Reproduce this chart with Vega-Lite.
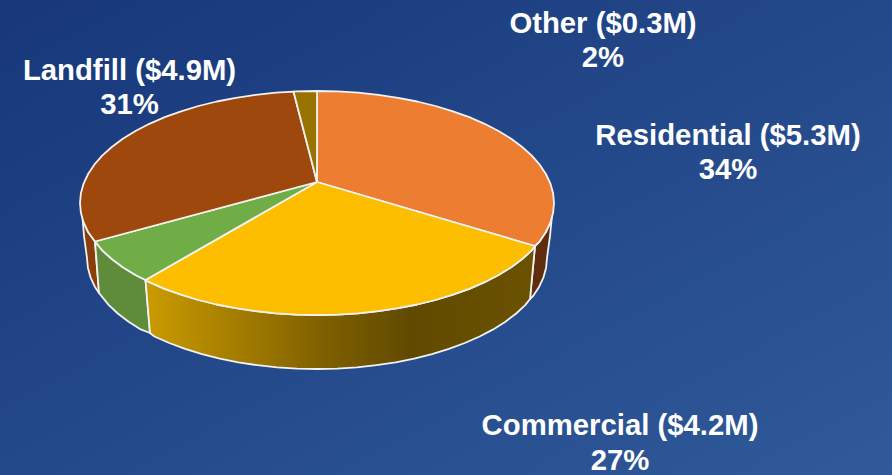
{"$schema":"https://vega.github.io/schema/vega-lite/v6.json","width":892,"height":475,"autosize":{"type":"none"},"padding":0,"config":{"view":{"stroke":null}},
"datasets":{
"backdrop":[{"x":0,"x2":892,"y":0,"y2":475}],
"labels":[{"text":"Other ($0.3M)","x":603,"y":24},{"text":"2%","x":603,"y":58},{"text":"Landfill ($4.9M)","x":129.5,"y":71},{"text":"31%","x":129.5,"y":105},{"text":"Residential ($5.3M)","x":728,"y":136},{"text":"34%","x":728,"y":170},{"text":"Commercial ($4.2M)","x":620,"y":426},{"text":"27%","x":620,"y":461}],
"outline":[
{"part":"sideLandfillLeft","i":0,"x":82.5,"y":218},{"part":"sideLandfillLeft","i":1,"x":83.6,"y":222.4},{"part":"sideLandfillLeft","i":2,"x":88.1,"y":232},{"part":"sideLandfillLeft","i":3,"x":95,"y":241.5},{"part":"sideLandfillLeft","i":4,"x":99,"y":293},{"part":"sideLandfillLeft","i":5,"x":94.8,"y":286.7},{"part":"sideLandfillLeft","i":6,"x":90.5,"y":277.3},{"part":"sideLandfillLeft","i":7,"x":87.9,"y":267.7},{"part":"sideLandfillLeft","i":8,"x":87,"y":258},{"part":"sideLandfillLeft","i":9,"x":84,"y":236},{"part":"sideLandfillLeft","i":10,"x":82.5,"y":218},
{"part":"sideLandfillRight","i":0,"x":552,"y":216},{"part":"sideLandfillRight","i":1,"x":550.4,"y":222.4},{"part":"sideLandfillRight","i":2,"x":545.9,"y":232},{"part":"sideLandfillRight","i":3,"x":539.7,"y":241.3},{"part":"sideLandfillRight","i":4,"x":535,"y":246},{"part":"sideLandfillRight","i":5,"x":530,"y":299},{"part":"sideLandfillRight","i":6,"x":533.1,"y":296},{"part":"sideLandfillRight","i":7,"x":539.2,"y":286.7},{"part":"sideLandfillRight","i":8,"x":543.5,"y":277.3},{"part":"sideLandfillRight","i":9,"x":546.1,"y":267.7},{"part":"sideLandfillRight","i":10,"x":547,"y":258},{"part":"sideLandfillRight","i":11,"x":550,"y":236},{"part":"sideLandfillRight","i":12,"x":552,"y":216},
{"part":"sideGreen","i":0,"x":95,"y":241.5},{"part":"sideGreen","i":1,"x":102.2,"y":250.3},{"part":"sideGreen","i":2,"x":111.8,"y":259},{"part":"sideGreen","i":3,"x":122.8,"y":267.2},{"part":"sideGreen","i":4,"x":135.5,"y":275},{"part":"sideGreen","i":5,"x":145.5,"y":280},{"part":"sideGreen","i":6,"x":150,"y":333},{"part":"sideGreen","i":7,"x":140.8,"y":329.4},{"part":"sideGreen","i":8,"x":128.6,"y":321.7},{"part":"sideGreen","i":9,"x":117.8,"y":313.5},{"part":"sideGreen","i":10,"x":108.6,"y":304.9},{"part":"sideGreen","i":11,"x":99,"y":293},{"part":"sideGreen","i":12,"x":95,"y":241.5},
{"part":"sideYellow","i":0,"x":535,"y":246},{"part":"sideYellow","i":1,"x":531.8,"y":250.3},{"part":"sideYellow","i":2,"x":522.2,"y":259},{"part":"sideYellow","i":3,"x":511.2,"y":267.2},{"part":"sideYellow","i":4,"x":498.5,"y":275},{"part":"sideYellow","i":5,"x":484.6,"y":282.2},{"part":"sideYellow","i":6,"x":469.3,"y":288.8},{"part":"sideYellow","i":7,"x":452.9,"y":294.7},{"part":"sideYellow","i":8,"x":435.5,"y":300},{"part":"sideYellow","i":9,"x":417.2,"y":304.5},{"part":"sideYellow","i":10,"x":398.1,"y":308.2},{"part":"sideYellow","i":11,"x":378.3,"y":311.2},{"part":"sideYellow","i":12,"x":358.1,"y":313.3},{"part":"sideYellow","i":13,"x":337.7,"y":314.6},{"part":"sideYellow","i":14,"x":317,"y":315},{"part":"sideYellow","i":15,"x":296.3,"y":314.6},{"part":"sideYellow","i":16,"x":275.9,"y":313.3},{"part":"sideYellow","i":17,"x":255.7,"y":311.2},{"part":"sideYellow","i":18,"x":235.9,"y":308.2},{"part":"sideYellow","i":19,"x":216.8,"y":304.5},{"part":"sideYellow","i":20,"x":198.5,"y":300},{"part":"sideYellow","i":21,"x":181.1,"y":294.7},{"part":"sideYellow","i":22,"x":164.7,"y":288.8},{"part":"sideYellow","i":23,"x":149.4,"y":282.2},{"part":"sideYellow","i":24,"x":145.5,"y":280},{"part":"sideYellow","i":25,"x":150,"y":333},{"part":"sideYellow","i":26,"x":154.4,"y":336.5},{"part":"sideYellow","i":27,"x":169.2,"y":343},{"part":"sideYellow","i":28,"x":185.1,"y":348.9},{"part":"sideYellow","i":29,"x":202,"y":354.1},{"part":"sideYellow","i":30,"x":219.8,"y":358.6},{"part":"sideYellow","i":31,"x":238.3,"y":362.3},{"part":"sideYellow","i":32,"x":257.5,"y":365.2},{"part":"sideYellow","i":33,"x":277.1,"y":367.3},{"part":"sideYellow","i":34,"x":296.9,"y":368.6},{"part":"sideYellow","i":35,"x":317,"y":369},{"part":"sideYellow","i":36,"x":337.1,"y":368.6},{"part":"sideYellow","i":37,"x":356.9,"y":367.3},{"part":"sideYellow","i":38,"x":376.5,"y":365.2},{"part":"sideYellow","i":39,"x":395.7,"y":362.3},{"part":"sideYellow","i":40,"x":414.2,"y":358.6},{"part":"sideYellow","i":41,"x":432,"y":354.1},{"part":"sideYellow","i":42,"x":448.9,"y":348.9},{"part":"sideYellow","i":43,"x":464.8,"y":343},{"part":"sideYellow","i":44,"x":479.6,"y":336.5},{"part":"sideYellow","i":45,"x":493.2,"y":329.4},{"part":"sideYellow","i":46,"x":505.4,"y":321.7},{"part":"sideYellow","i":47,"x":516.2,"y":313.5},{"part":"sideYellow","i":48,"x":525.4,"y":304.9},{"part":"sideYellow","i":49,"x":530,"y":299},{"part":"sideYellow","i":50,"x":535,"y":246},
{"part":"Residential","i":0,"x":317,"y":182},{"part":"Residential","i":1,"x":317,"y":91},{"part":"Residential","i":2,"x":337.7,"y":91.4},{"part":"Residential","i":3,"x":358.1,"y":92.7},{"part":"Residential","i":4,"x":378.3,"y":94.8},{"part":"Residential","i":5,"x":398.1,"y":97.8},{"part":"Residential","i":6,"x":417.2,"y":101.5},{"part":"Residential","i":7,"x":435.5,"y":106},{"part":"Residential","i":8,"x":452.9,"y":111.3},{"part":"Residential","i":9,"x":469.3,"y":117.2},{"part":"Residential","i":10,"x":484.6,"y":123.8},{"part":"Residential","i":11,"x":498.5,"y":131},{"part":"Residential","i":12,"x":511.2,"y":138.8},{"part":"Residential","i":13,"x":522.2,"y":147},{"part":"Residential","i":14,"x":531.8,"y":155.7},{"part":"Residential","i":15,"x":539.7,"y":164.7},{"part":"Residential","i":16,"x":545.9,"y":174},{"part":"Residential","i":17,"x":550.4,"y":183.6},{"part":"Residential","i":18,"x":553.1,"y":193.2},{"part":"Residential","i":19,"x":554,"y":203},{"part":"Residential","i":20,"x":553.1,"y":212.8},{"part":"Residential","i":21,"x":550.4,"y":222.4},{"part":"Residential","i":22,"x":545.9,"y":232},{"part":"Residential","i":23,"x":539.7,"y":241.3},{"part":"Residential","i":24,"x":535,"y":246},{"part":"Residential","i":25,"x":317,"y":182},
{"part":"Commercial","i":0,"x":317,"y":182},{"part":"Commercial","i":1,"x":535,"y":246},{"part":"Commercial","i":2,"x":531.8,"y":250.3},{"part":"Commercial","i":3,"x":522.2,"y":259},{"part":"Commercial","i":4,"x":511.2,"y":267.2},{"part":"Commercial","i":5,"x":498.5,"y":275},{"part":"Commercial","i":6,"x":484.6,"y":282.2},{"part":"Commercial","i":7,"x":469.3,"y":288.8},{"part":"Commercial","i":8,"x":452.9,"y":294.7},{"part":"Commercial","i":9,"x":435.5,"y":300},{"part":"Commercial","i":10,"x":417.2,"y":304.5},{"part":"Commercial","i":11,"x":398.1,"y":308.2},{"part":"Commercial","i":12,"x":378.3,"y":311.2},{"part":"Commercial","i":13,"x":358.1,"y":313.3},{"part":"Commercial","i":14,"x":337.7,"y":314.6},{"part":"Commercial","i":15,"x":317,"y":315},{"part":"Commercial","i":16,"x":296.3,"y":314.6},{"part":"Commercial","i":17,"x":275.9,"y":313.3},{"part":"Commercial","i":18,"x":255.7,"y":311.2},{"part":"Commercial","i":19,"x":235.9,"y":308.2},{"part":"Commercial","i":20,"x":216.8,"y":304.5},{"part":"Commercial","i":21,"x":198.5,"y":300},{"part":"Commercial","i":22,"x":181.1,"y":294.7},{"part":"Commercial","i":23,"x":164.7,"y":288.8},{"part":"Commercial","i":24,"x":149.4,"y":282.2},{"part":"Commercial","i":25,"x":145.5,"y":280},{"part":"Commercial","i":26,"x":317,"y":182},
{"part":"Green","i":0,"x":317,"y":182},{"part":"Green","i":1,"x":145.5,"y":280},{"part":"Green","i":2,"x":135.5,"y":275},{"part":"Green","i":3,"x":122.8,"y":267.2},{"part":"Green","i":4,"x":111.8,"y":259},{"part":"Green","i":5,"x":102.2,"y":250.3},{"part":"Green","i":6,"x":95,"y":241.5},{"part":"Green","i":7,"x":317,"y":182},
{"part":"Landfill","i":0,"x":317,"y":182},{"part":"Landfill","i":1,"x":95,"y":241.5},{"part":"Landfill","i":2,"x":88.1,"y":232},{"part":"Landfill","i":3,"x":83.6,"y":222.4},{"part":"Landfill","i":4,"x":80.9,"y":212.8},{"part":"Landfill","i":5,"x":80,"y":203},{"part":"Landfill","i":6,"x":80.9,"y":193.2},{"part":"Landfill","i":7,"x":83.6,"y":183.6},{"part":"Landfill","i":8,"x":88.1,"y":174},{"part":"Landfill","i":9,"x":94.3,"y":164.7},{"part":"Landfill","i":10,"x":102.2,"y":155.7},{"part":"Landfill","i":11,"x":111.8,"y":147},{"part":"Landfill","i":12,"x":122.8,"y":138.8},{"part":"Landfill","i":13,"x":135.5,"y":131},{"part":"Landfill","i":14,"x":149.4,"y":123.8},{"part":"Landfill","i":15,"x":164.7,"y":117.2},{"part":"Landfill","i":16,"x":181.1,"y":111.3},{"part":"Landfill","i":17,"x":198.5,"y":106},{"part":"Landfill","i":18,"x":216.8,"y":101.5},{"part":"Landfill","i":19,"x":235.9,"y":97.8},{"part":"Landfill","i":20,"x":255.7,"y":94.8},{"part":"Landfill","i":21,"x":275.9,"y":92.7},{"part":"Landfill","i":22,"x":293.5,"y":91.6},{"part":"Landfill","i":23,"x":317,"y":182},
{"part":"Other","i":0,"x":317,"y":182},{"part":"Other","i":1,"x":293.5,"y":91.6},{"part":"Other","i":2,"x":296.3,"y":91.4},{"part":"Other","i":3,"x":317,"y":91},{"part":"Other","i":4,"x":317,"y":182}
]},
"layer":[
{"data":{"name":"backdrop"},"mark":{"type":"rect","color":{"gradient":"linear","x1":0,"y1":0,"x2":1,"y2":1,"stops":[{"offset":0,"color":"#17377A"},{"offset":1,"color":"#305A9A"}]}},"encoding":{"x":{"field":"x","type":"quantitative","scale":{"domain":[0,892],"nice":false,"zero":false},"axis":null},"x2":{"field":"x2"},"y":{"field":"y","type":"quantitative","scale":{"domain":[475,0],"nice":false,"zero":false},"axis":null},"y2":{"field":"y2"}}},
{"data":{"name":"outline"},"transform":[{"filter":"datum.part==='sideLandfillLeft'"}],"mark":{"type":"line","fill":"#8A3E0A","stroke":"#F2F2F2","strokeWidth":1.8,"strokeJoin":"round"},"encoding":{"x":{"field":"x","type":"quantitative","axis":null},"y":{"field":"y","type":"quantitative","axis":null},"order":{"field":"i","type":"quantitative"}}},
{"data":{"name":"outline"},"transform":[{"filter":"datum.part==='sideLandfillRight'"}],"mark":{"type":"line","fill":"#5F2D0E","stroke":"#F2F2F2","strokeWidth":1.8,"strokeJoin":"round"},"encoding":{"x":{"field":"x","type":"quantitative","axis":null},"y":{"field":"y","type":"quantitative","axis":null},"order":{"field":"i","type":"quantitative"}}},
{"data":{"name":"outline"},"transform":[{"filter":"datum.part==='sideGreen'"}],"mark":{"type":"line","fill":"#5E8C3A","stroke":"#F2F2F2","strokeWidth":1.8,"strokeJoin":"round"},"encoding":{"x":{"field":"x","type":"quantitative","axis":null},"y":{"field":"y","type":"quantitative","axis":null},"order":{"field":"i","type":"quantitative"}}},
{"data":{"name":"outline"},"transform":[{"filter":"datum.part==='sideYellow'"}],"mark":{"type":"line","fill":{"gradient":"linear","x1":0,"y1":0,"x2":1,"y2":0,"stops":[{"offset":0,"color":"#CB9B00"},{"offset":0.45,"color":"#806100"},{"offset":0.68,"color":"#614A00"},{"offset":1,"color":"#6B5200"}]},"stroke":"#F2F2F2","strokeWidth":1.8,"strokeJoin":"round"},"encoding":{"x":{"field":"x","type":"quantitative","axis":null},"y":{"field":"y","type":"quantitative","axis":null},"order":{"field":"i","type":"quantitative"}}},
{"data":{"name":"outline"},"transform":[{"filter":"datum.part==='Residential'"}],"mark":{"type":"line","fill":"#ED7D31","stroke":"#F2F2F2","strokeWidth":1.8,"strokeJoin":"round"},"encoding":{"x":{"field":"x","type":"quantitative","axis":null},"y":{"field":"y","type":"quantitative","axis":null},"order":{"field":"i","type":"quantitative"}}},
{"data":{"name":"outline"},"transform":[{"filter":"datum.part==='Commercial'"}],"mark":{"type":"line","fill":"#FDBE00","stroke":"#F2F2F2","strokeWidth":1.8,"strokeJoin":"round"},"encoding":{"x":{"field":"x","type":"quantitative","axis":null},"y":{"field":"y","type":"quantitative","axis":null},"order":{"field":"i","type":"quantitative"}}},
{"data":{"name":"outline"},"transform":[{"filter":"datum.part==='Green'"}],"mark":{"type":"line","fill":"#70AD47","stroke":"#F2F2F2","strokeWidth":1.8,"strokeJoin":"round"},"encoding":{"x":{"field":"x","type":"quantitative","axis":null},"y":{"field":"y","type":"quantitative","axis":null},"order":{"field":"i","type":"quantitative"}}},
{"data":{"name":"outline"},"transform":[{"filter":"datum.part==='Landfill'"}],"mark":{"type":"line","fill":"#9E480E","stroke":"#F2F2F2","strokeWidth":1.8,"strokeJoin":"round"},"encoding":{"x":{"field":"x","type":"quantitative","axis":null},"y":{"field":"y","type":"quantitative","axis":null},"order":{"field":"i","type":"quantitative"}}},
{"data":{"name":"outline"},"transform":[{"filter":"datum.part==='Other'"}],"mark":{"type":"line","fill":"#997300","stroke":"#F2F2F2","strokeWidth":1.8,"strokeJoin":"round"},"encoding":{"x":{"field":"x","type":"quantitative","axis":null},"y":{"field":"y","type":"quantitative","axis":null},"order":{"field":"i","type":"quantitative"}}},
{"data":{"name":"labels"},"mark":{"type":"text","font":"Liberation Sans","fontWeight":"bold","fontSize":29.3,"color":"white","align":"center","baseline":"middle"},"encoding":{"x":{"field":"x","type":"quantitative","axis":null},"y":{"field":"y","type":"quantitative","axis":null},"text":{"field":"text"}}}
]}
